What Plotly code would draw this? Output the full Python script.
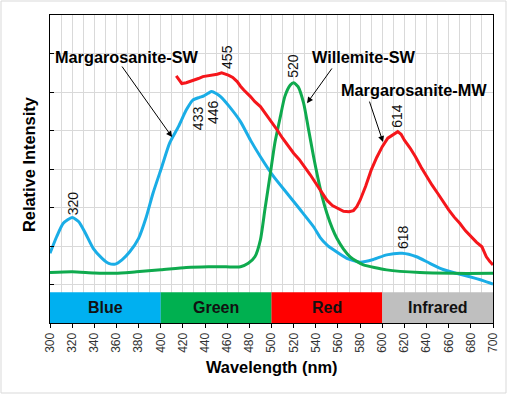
import plotly.graph_objects as go

# ---------------- data ----------------
sw_wl = [300, 306, 312, 320, 326, 332, 339, 347, 353, 359, 365, 372, 380, 387, 393, 401,
         408, 416, 423, 429, 435, 439, 443, 446, 450, 454, 462, 472, 481, 490, 502, 514,
         526, 538, 544, 550, 556, 568, 580, 592, 604, 618, 631, 643, 655, 667, 679, 691, 700]
sw_int = [1.81, 2.24, 2.59, 2.74, 2.63, 2.33, 1.94, 1.68, 1.55, 1.53, 1.64, 1.85, 2.20, 2.76, 3.37, 4.06,
          4.67, 5.10, 5.53, 5.79, 5.86, 5.90, 5.97, 6.01, 5.96, 5.88, 5.62, 5.23, 4.75, 4.32, 3.80, 3.37,
          2.94, 2.50, 2.22, 2.03, 1.90, 1.68, 1.58, 1.65, 1.77, 1.81, 1.72, 1.55, 1.39, 1.29, 1.20, 1.10, 1.01]

wil_wl = [300, 320, 340, 359, 378, 400, 423, 443, 459, 472, 479, 485, 490, 494, 499, 503,
          508, 512, 517, 520, 524, 529, 533, 538, 542, 546, 550, 555, 559, 565, 571, 577, 583,
          604, 634, 664, 700]
wil_int = [1.31, 1.33, 1.30, 1.29, 1.33, 1.38, 1.44, 1.46, 1.46, 1.46, 1.55, 1.72, 2.16, 2.94, 3.89, 4.67,
           5.36, 5.88, 6.18, 6.24, 6.14, 5.71, 5.10, 4.32, 3.75, 3.25, 2.85, 2.45, 2.20, 1.92, 1.72, 1.60, 1.51,
           1.38, 1.31, 1.29, 1.29]

mw_wl = [414, 417, 419, 423, 429, 434, 438, 443, 448, 451, 455, 458, 461, 465, 469, 472, 475, 481,
         485, 490, 495, 500, 505, 510, 515, 520, 525, 530, 535, 540, 545, 550, 555, 560, 565, 570,
         574, 577, 580, 585, 590, 595, 600, 605, 610, 614, 617, 620, 625, 630, 635, 640, 645, 650,
         655, 660, 665, 670, 675, 680, 685, 690, 694, 697, 700]
mw_int = [6.42, 6.30, 6.22, 6.24, 6.29, 6.35, 6.40, 6.42, 6.44, 6.46, 6.50, 6.48, 6.44, 6.38, 6.27, 6.15, 6.05, 5.88,
          5.75, 5.62, 5.43, 5.23, 5.02, 4.80, 4.60, 4.41, 4.25, 4.06, 3.85, 3.63, 3.40, 3.19, 3.05, 2.98, 2.90, 2.89,
          2.92, 3.02, 3.19, 3.55, 3.97, 4.30, 4.58, 4.80, 4.90, 4.97, 4.90, 4.75, 4.55, 4.32, 4.05, 3.80, 3.58, 3.37,
          3.15, 2.94, 2.75, 2.59, 2.40, 2.24, 2.10, 1.98, 1.72, 1.60, 1.51]

band_names = ["Blue", "Green", "Red", "Infrared"]
band_start = [300, 400, 500, 600]
band_end = [400, 500, 600, 700]
band_colors = ["#00B0F0", "#00B050", "#FF0000", "#BFBFBF"]
band_height = 0.8

peak_labels = ["320", "433", "446", "455", "520", "614", "618"]
peak_x = [320.3, 433.6, 447.2, 459.8, 519.4, 613.3, 618.7]
peak_y = [3.12, 5.32, 5.48, 6.91, 6.68, 5.38, 2.23]

series_names = ["Margarosanite-SW", "Willemite-SW", "Margarosanite-MW"]
name_x = [369.5, 583.5, 628.7]
name_y = [6.91, 6.91, 6.05]
arrow_tail_x = [364.1, 555.5, 588.0]
arrow_tail_y = [6.70, 6.65, 5.79]
arrow_head_x = [410.2, 532.1, 600.7]
arrow_head_y = [4.83, 5.71, 4.70]

x_ticks = list(range(300, 701, 20))

FONT = "Liberation Sans"
W, H = 509, 396
ML, MR, MT, MB = 50, 16, 15, 73

fig = go.Figure()
fig.add_trace(go.Scatter(x=sw_wl, y=sw_int, mode="lines", name=series_names[0],
                         line=dict(color="#1AADE6", width=3, shape="spline", smoothing=0.6)))
fig.add_trace(go.Scatter(x=wil_wl, y=wil_int, mode="lines", name=series_names[1],
                         line=dict(color="#0FAA4E", width=3, shape="spline", smoothing=0.6)))
fig.add_trace(go.Scatter(x=mw_wl, y=mw_int, mode="lines", name=series_names[2],
                         line=dict(color="#F5161B", width=3)))

shapes = []
annotations = []
for name, x0, x1, col in zip(band_names, band_start, band_end, band_colors):
    shapes.append(dict(type="rect", xref="x", yref="y", x0=x0, x1=x1, y0=0, y1=band_height,
                       fillcolor=col, line=dict(width=0), layer="between"))
    annotations.append(dict(x=(x0 + x1) / 2, y=band_height / 2, xref="x", yref="y", text=name,
                            showarrow=False, xanchor="center", yanchor="middle",
                            font=dict(family=FONT, size=16, color="#111111", weight="bold")))

for t, x, y in zip(peak_labels, peak_x, peak_y):
    annotations.append(dict(x=x, y=y, xref="x", yref="y", text=t, textangle=-90, showarrow=False,
                            xanchor="center", yanchor="middle",
                            font=dict(family=FONT, size=14, color="#111111")))

for t, x, y in zip(series_names, name_x, name_y):
    annotations.append(dict(x=x, y=y, xref="x", yref="y", text=t, showarrow=False,
                            xanchor="center", yanchor="middle",
                            font=dict(family=FONT, size=16.3, color="#000000", weight="bold")))

for tx, ty, hx, hy in zip(arrow_tail_x, arrow_tail_y, arrow_head_x, arrow_head_y):
    annotations.append(dict(x=hx, y=hy, xref="x", yref="y", ax=tx, ay=ty, axref="x", ayref="y",
                            text="", showarrow=True, arrowhead=2, arrowsize=1.2, arrowwidth=1,
                            arrowcolor="#000000", standoff=0, startstandoff=0))

pw = W - ML - MR
ph = H - MT - MB
# axis titles
annotations.append(dict(x=(28.5 - ML) / pw, y=(H - MB - 164.5) / ph, xref="paper", yref="paper",
                        text="Relative Intensity", textangle=-90, showarrow=False,
                        xanchor="center", yanchor="middle",
                        font=dict(family=FONT, size=16.4, color="#000000", weight="bold")))
annotations.append(dict(x=(271 - ML) / pw, y=(H - MB - 367) / ph, xref="paper", yref="paper",
                        text="Wavelength (nm)", showarrow=False,
                        xanchor="center", yanchor="middle",
                        font=dict(family=FONT, size=16.4, color="#000000", weight="bold")))

# outer chart border
shapes.append(dict(type="rect", xref="paper", yref="paper",
                   x0=(1 - ML) / pw, x1=(506 - ML) / pw,
                   y0=(H - MB - 393) / ph, y1=(H - MB - 1) / ph,
                   line=dict(color="#D9D9D9", width=1), fillcolor="rgba(0,0,0,0)", layer="below"))

fig.update_layout(
    width=W, height=H,
    margin=dict(l=ML, r=MR, t=MT, b=MB),
    paper_bgcolor="white", plot_bgcolor="white",
    showlegend=False,
    font=dict(family=FONT, color="#222222"),
    shapes=shapes, annotations=annotations,
    xaxis=dict(range=[300, 700], tickmode="array", tickvals=x_ticks, ticktext=[str(v) for v in x_ticks],
               tickangle=-90, tickfont=dict(family=FONT, size=12, color="#333333"),
               ticks="outside", ticklen=4, tickcolor="#000000",
               showgrid=True, gridcolor="#D9D9D9", gridwidth=1,
               minor=dict(dtick=10, tick0=300, showgrid=True, gridcolor="#D9D9D9", gridwidth=1),
               showline=True, linecolor="#000000", linewidth=1, mirror=True, zeroline=False,
               automargin=False),
    yaxis=dict(range=[0, 8], tickmode="linear", tick0=0, dtick=1, showticklabels=False,
               ticks="inside", ticklen=4, tickcolor="#000000",
               showgrid=True, gridcolor="#D9D9D9", gridwidth=1,
               showline=True, linecolor="#000000", linewidth=1, mirror=True, zeroline=False,
               automargin=False),
)

fig.write_html("out.html", config={"displayModeBar": False},
               post_script="document.body.style.margin='0';document.body.style.overflow='hidden';")
